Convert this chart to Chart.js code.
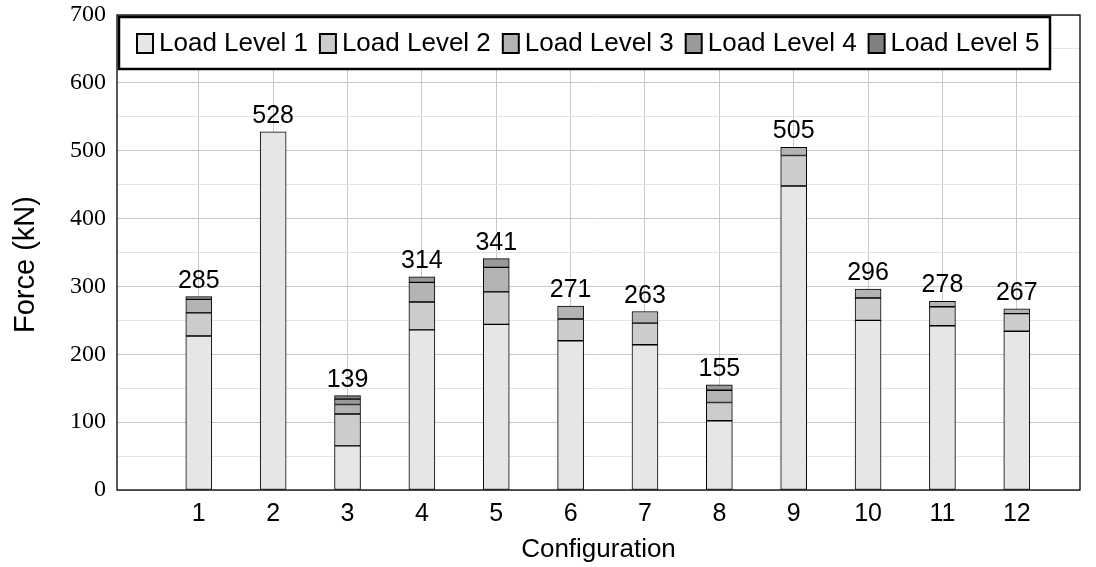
<!DOCTYPE html>
<html>
<head>
<meta charset="utf-8">
<script src="https://cdn.jsdelivr.net/npm/chart.js@4"></script>
<style>
  body { margin: 0; background: #fff; }
</style>
</head>
<body>
<canvas id="grafico" width="1096" height="567"></canvas>
<script>
// datos
var categories = [1, 2, 3, 4, 5, 6, 7, 8, 9, 10, 11, 12];
var level1 = [227, 528, 65, 236, 244, 220, 214, 102, 448, 250, 242, 234];
var level2 = [34, 0, 47, 41, 48, 32, 32, 27, 45, 33, 28, 26];
var level3 = [20, 0, 14, 29, 36, 19, 17, 18, 12, 13, 8, 7];
var level4 = [4, 0, 8, 8, 13, 0, 0, 8, 0, 0, 0, 0];
var level5 = [0, 0, 5, 0, 0, 0, 0, 0, 0, 0, 0, 0];
var totals = [285, 528, 139, 314, 341, 271, 263, 155, 505, 296, 278, 267];
var seriesNames = ["Load Level 1", "Load Level 2", "Load Level 3", "Load Level 4", "Load Level 5"];
var yTicks = [0, 100, 200, 300, 400, 500, 600, 700];

var colores = ["#e6e6e6", "#cccccc", "#b3b3b3", "#999999", "#808080"];
var sans = "'Liberation Sans', Arial, sans-serif";
var serif = "'Liberation Serif', 'Times New Roman', serif";

function puntos(vals) {
  return categories.map(function (c, i) { return { x: c, y: vals[i] }; });
}

var series = [level1, level2, level3, level4, level5];
var datasets = series.map(function (vals, i) {
  return {
    label: seriesNames[i],
    data: puntos(vals),
    backgroundColor: colores[i],
    borderColor: "#000",
    borderWidth: 1,
    borderSkipped: false,
    barThickness: 26
  };
});

// marco completo del area de trazado
var marco = {
  id: "marco",
  afterDatasetsDraw: function (chart) {
    var a = chart.chartArea, ctx = chart.ctx;
    ctx.save();
    ctx.strokeStyle = "#000";
    ctx.lineWidth = 1.3;
    ctx.strokeRect(a.left, a.top, a.right - a.left, a.bottom - a.top);
    ctx.restore();
  }
};

// totales encima de cada barra
var totales = {
  id: "totales",
  afterDatasetsDraw: function (chart) {
    var ctx = chart.ctx, x = chart.scales.x, y = chart.scales.y;
    ctx.save();
    ctx.fillStyle = "#000";
    ctx.font = "25px " + sans;
    ctx.textAlign = "center";
    ctx.textBaseline = "alphabetic";
    categories.forEach(function (c, i) {
      ctx.fillText(String(totals[i]), x.getPixelForValue(c), y.getPixelForValue(totals[i]) - 9);
    });
    ctx.restore();
  }
};

// titulo del eje y (un poco descentrado, como en el original)
var tituloY = {
  id: "tituloY",
  afterDraw: function (chart) {
    var ctx = chart.ctx;
    ctx.save();
    ctx.translate(33.5, 333);
    ctx.rotate(-Math.PI / 2);
    ctx.fillStyle = "#000";
    ctx.font = "29px " + sans;
    ctx.textAlign = "left";
    ctx.textBaseline = "alphabetic";
    ctx.fillText("Force (kN)", 0, 0);
    ctx.restore();
  }
};

// leyenda dentro del area, con recuadro
var leyenda = {
  id: "leyenda",
  afterDraw: function (chart) {
    var ctx = chart.ctx, a = chart.chartArea;
    var bx = a.left + 2, by = a.top + 2, bw = 931, bh = 52;
    ctx.save();
    ctx.fillStyle = "#fff";
    ctx.fillRect(bx, by, bw, bh);
    ctx.strokeStyle = "#000";
    ctx.lineWidth = 2.5;
    ctx.strokeRect(bx, by, bw, bh);
    ctx.font = "26px " + sans;
    ctx.textBaseline = "middle";
    var px = bx + 18, cy = by + bh / 2;
    chart.data.datasets.forEach(function (ds) {
      ctx.fillStyle = ds.backgroundColor;
      ctx.fillRect(px, cy - 9, 16, 19);
      ctx.lineWidth = 2;
      ctx.strokeRect(px, cy - 9, 16, 19);
      ctx.fillStyle = "#000";
      ctx.fillText(ds.label, px + 22, cy + 1);
      px += 22 + ctx.measureText(ds.label).width + 12;
    });
    ctx.restore();
  }
};

var ctx = document.getElementById("grafico").getContext("2d");
var grafico = new Chart(ctx, {
  type: "bar",
  data: { datasets: datasets },
  plugins: [marco, totales, tituloY, leyenda],
  options: {
    responsive: false,
    animation: false,
    devicePixelRatio: 1,
    layout: { padding: { left: 0, right: 16, top: 15, bottom: 0 } },
    plugins: { legend: { display: false }, tooltip: { enabled: false } },
    scales: {
      x: {
        type: "linear",
        stacked: true,
        offset: false,
        min: -0.1,
        max: 12.85,
        afterBuildTicks: function (axis) {
          axis.ticks = categories.map(function (c) { return { value: c }; });
        },
        afterFit: function (s) { s.height = 77; },
        border: { display: false },
        grid: { color: "#c8c8c8", lineWidth: 1, drawTicks: false, offset: false },
        ticks: { color: "#000", font: { family: sans, size: 25 }, padding: 9, autoSkip: false, maxRotation: 0 },
        title: { display: true, text: "Configuration", color: "#000", font: { family: sans, size: 26 }, padding: { top: 0, bottom: 2 } }
      },
      y: {
        stacked: true,
        min: 0,
        max: 700,
        afterBuildTicks: function (axis) {
          var t = [];
          yTicks.forEach(function (v, i) {
            t.push({ value: v });
            if (i < yTicks.length - 1) t.push({ value: v + 50 });
          });
          axis.ticks = t;
        },
        afterFit: function (s) { s.width = 117; },
        border: { display: false },
        grid: {
          drawTicks: false,
          color: function (c) { return yTicks.indexOf(c.tick.value) >= 0 ? "#c8c8c8" : "#e4e4e4"; }
        },
        ticks: {
          color: "#000",
          font: { family: serif, size: 24, lineHeight: 0.3 },
          padding: 11,
          autoSkip: false,
          callback: function (v) { return yTicks.indexOf(v) >= 0 ? String(v) : ""; }
        },
        title: { display: false }
      }
    }
  }
});
</script>
</body>
</html>
